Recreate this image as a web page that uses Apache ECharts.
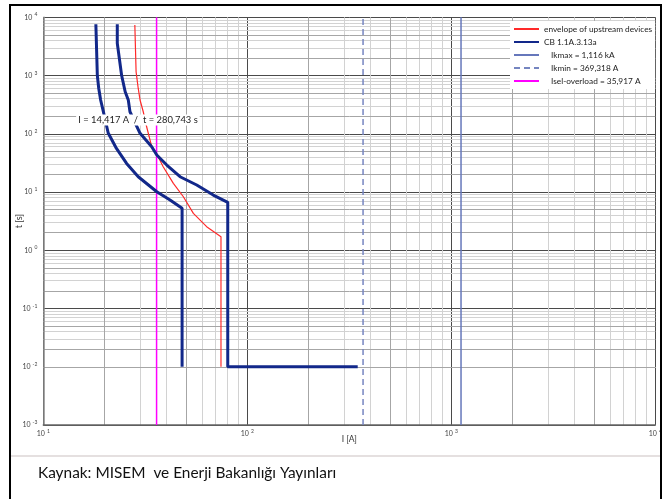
<!DOCTYPE html>
<html><head><meta charset="utf-8">
<script src="https://cdn.jsdelivr.net/npm/echarts@6/dist/echarts.min.js"></script>
<style>html,body{margin:0;padding:0;background:#fff}#c{width:664px;height:499px}</style>
</head><body><div id="c"></div>
<script>
// ---- data ----
const envelopeI = [28.1, 28.5, 29.2, 29.8, 30.9, 32.1, 34.0, 36.2, 38.7, 43.4, 48.6, 54.4, 63.2, 74.3, 74.3];
const envelopeT = [7400, 1160, 600, 380, 239, 132, 60, 43.2, 27.2, 14.1, 8.3, 4.3, 2.54, 1.71, 0.01];
const cbMinI = [18.1, 18.4, 18.7, 19.1, 19.7, 20.8, 22.7, 25.6, 29.2, 36.0, 41.8, 47.9, 47.9];
const cbMinT = [7600, 1010, 600, 380, 240, 103, 58, 31, 18.3, 10.1, 7.3, 5.25, 0.01];
const cbMaxI = [23.05, 23.05, 24.2, 25.2, 26.1, 26.6, 29.8, 34.0, 36.0, 40.3, 46.8, 56.5, 68.1, 80.2, 80.2, 347.7];
const cbMaxT = [7600, 3580, 1010, 527, 380, 239, 102, 60, 43.2, 29.1, 18.3, 13.2, 8.87, 6.65, 0.01, 0.01];
const ikmax = 1116;
const ikmin = 369.318;
const iselOverload = 35.917;
const annotI = 29.1, annotT = 172;
const annotText = 'I = 14,417 A  /  t = 280,743 s';
const names = ['envelope of upstream devices', 'CB 1.1A.3.13a', 'Ikmax = 1,116 kA', 'Ikmin = 369,318 A', 'Isel-overload = 35,917 A'];
const xDecades = [10, 100, 1000];
const yDecades = [0.001, 0.01, 0.1, 1, 10, 100, 1000];
const darkMinor = [2, 5];
const lightMinor = [3, 4, 6, 7, 8, 9];
const tMin = 0.001, tMax = 10000, iMin = 10, iMax = 10000;
const caption = 'Kaynak: MISEM  ve Enerji Bakanlığı Yayınları';

const zip = (a, b) => a.map((v, i) => [v, b[i]]);
function minorLines(decs, mults, axis) {
  const out = [];
  decs.forEach(d => mults.forEach(m => { const o = {}; o[axis] = +(d * m).toPrecision(6); out.push(o); }));
  return out;
}
const font = 'Lato, "Open Sans", sans-serif';
const supFmt = v => {
  const e = Math.round(Math.log10(v));
  return '{b|10}{s|' + e + '}';
};
const labelRich = {
  b: { fontSize: 7, color: '#444', fontFamily: font },
  s: { fontSize: 5, color: '#444', fontFamily: font, padding: [0, 0, 5, 2] }
};
const ml = (data, color) => ({
  silent: true, symbol: 'none', label: { show: false }, animation: false,
  lineStyle: { color: color, width: 1, type: 'solid' }, data: data
});

const chart = echarts.init(document.getElementById('c'), null, { renderer: 'canvas' });
chart.setOption({
  animation: false,
  backgroundColor: '#fff',
  textStyle: { fontFamily: font },
  grid: { left: 43.3, top: 17.3, right: 8.7, bottom: 74, show: false, containLabel: false, outerBoundsMode: 'none' },
  xAxis: {
    type: 'log', logBase: 10, min: iMin, max: iMax, splitNumber: 3,
    name: 'I [A]', nameLocation: 'middle', nameGap: 10, nameMoveOverlap: false,
    nameTextStyle: { fontSize: 8.5, color: '#333', fontFamily: font },
    axisLine: { lineStyle: { color: '#666', width: 1.5 } },
    axisTick: { show: false },
    axisLabel: { formatter: supFmt, rich: labelRich, margin: 4 },
    splitLine: { show: true, lineStyle: { color: '#4a4a4a', width: 1 } }
  },
  yAxis: {
    type: 'log', logBase: 10, min: tMin, max: tMax, splitNumber: 7,
    name: 't [s]', nameLocation: 'middle', nameGap: 20, nameRotate: 90, nameMoveOverlap: false,
    nameTextStyle: { fontSize: 9, color: '#333', fontFamily: font },
    axisLine: { show: true, lineStyle: { color: '#888', width: 1.5 } },
    axisTick: { show: false },
    axisLabel: { formatter: supFmt, rich: labelRich, margin: 6 },
    splitLine: { show: true, lineStyle: { color: '#4a4a4a', width: 1 } }
  },
  legend: {
    orient: 'vertical', left: 510, top: 21,
    data: names,
    backgroundColor: '#fff', padding: [4, 3, 4, 3],
    itemWidth: 25, itemHeight: 8, itemGap: 5,
    itemStyle: { opacity: 0 },
    formatter: n => (names.indexOf(n) >= 2 ? '{i|' + n + '}' : n),
    textStyle: { fontSize: 8.3, color: '#222', fontFamily: font, rich: { i: { fontSize: 8.3, color: '#222', fontFamily: font, padding: [0, 0, 0, 7] } } }
  },
  graphic: [
    { id: 'frame', type: 'rect', silent: true, shape: { x: 10, y: 5, width: 651, height: 500 }, style: { fill: null, stroke: '#000', lineWidth: 2 }, z: 100 },
    { id: 'sep', type: 'line', silent: true, shape: { x1: 11, y1: 456, x2: 660, y2: 456 }, style: { stroke: '#ddd6d6', lineWidth: 1.5 } },
    { id: 'cap', type: 'text', left: 38, top: 466, style: { text: caption, fontSize: 15.4, fill: '#111', fontFamily: font } }
  ],
  series: [
    { name: 'gridLight', type: 'line', data: [], z: 0, silent: true,
      markLine: Object.assign(ml(minorLines(xDecades, lightMinor, 'xAxis').concat(minorLines(yDecades, lightMinor, 'yAxis')), '#d2d2d2'), { z: 0 }) },
    { name: 'gridDark', type: 'line', data: [], z: 0, silent: true,
      markLine: Object.assign(ml(minorLines(xDecades, darkMinor, 'xAxis').concat(minorLines(yDecades, darkMinor, 'yAxis')), '#a6a6a6'), { z: 0 }) },
    { name: names[2], type: 'line', data: [[ikmax, tMin], [ikmax, tMax]], symbol: 'none', z: 3,
      lineStyle: { color: '#6677bb', width: 1.5 }, itemStyle: { color: '#6677bb' } },
    { name: names[3], type: 'line', data: [[ikmin, tMin], [ikmin, tMax]], symbol: 'none', z: 3,
      lineStyle: { color: '#7585c0', width: 1.5, type: [6, 4] }, itemStyle: { color: '#7585c0' } },
    { name: names[4], type: 'line', data: [[iselOverload, tMin], [iselOverload, tMax]], symbol: 'none', z: 3,
      lineStyle: { color: '#ff00ff', width: 1.5 }, itemStyle: { color: '#ff00ff' } },
    { name: names[0], type: 'line', data: zip(envelopeI, envelopeT), symbol: 'none', z: 4,
      lineStyle: { color: '#ff2a2a', width: 1.2 }, itemStyle: { color: '#ff2a2a' } },
    { name: names[1], type: 'line', data: zip(cbMinI, cbMinT), symbol: 'none', z: 5,
      lineStyle: { color: '#12288a', width: 3 }, itemStyle: { color: '#12288a' } },
    { name: names[1], type: 'line', data: zip(cbMaxI, cbMaxT), symbol: 'none', z: 5,
      lineStyle: { color: '#12288a', width: 3 }, itemStyle: { color: '#12288a' } }
  ]
});
const ap = chart.convertToPixel({ gridIndex: 0 }, [annotI, annotT]);
chart.setOption({
  graphic: [{
    id: 'annot', type: 'text', x: ap[0], y: ap[1], z: 50, silent: true,
    style: { text: annotText, fontSize: 9.4, fill: '#222', fontFamily: font,
      align: 'center', verticalAlign: 'middle', backgroundColor: '#fff', padding: [1, 2] }
  }]
});
</script>
</body></html>
